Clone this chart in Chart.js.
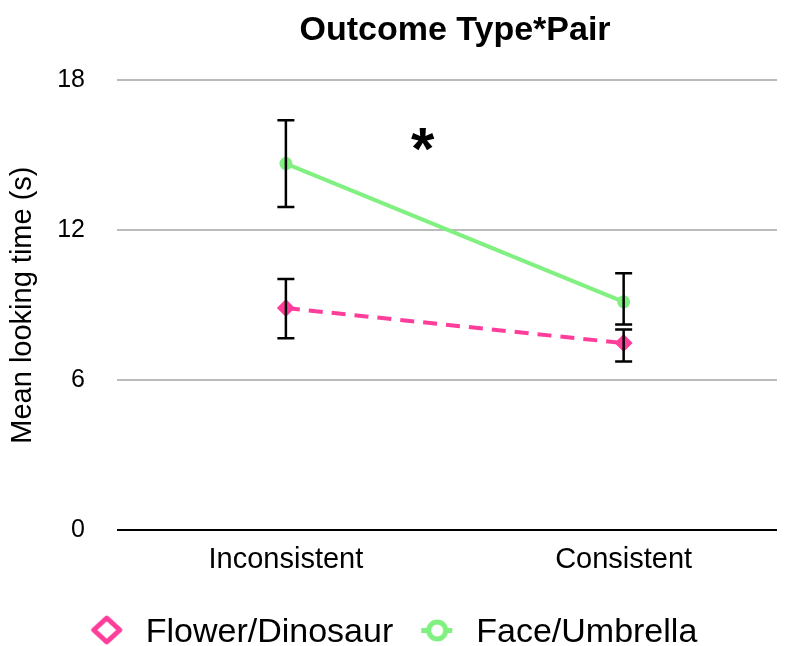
<!DOCTYPE html>
<html>
<head>
<meta charset="utf-8">
<script src="https://cdn.jsdelivr.net/npm/chart.js@4.4.0/dist/chart.umd.min.js"></script>
<style>
  html, body { margin: 0; padding: 0; background: #fff; }
  #wrap { width: 786px; height: 646px; }
</style>
</head>
<body>
<div id="wrap"><canvas id="chart"></canvas></div>
<script>
const categories = ['Inconsistent', 'Consistent'];
const yTicks = [0, 6, 12, 18];

const flowerMean  = [8.88, 7.48];
const flowerUpper = [10.04, 8.02];
const flowerLower = [7.67, 6.75];

const faceMean  = [14.66, 9.13];
const faceUpper = [16.39, 10.27];
const faceLower = [12.92, 8.22];

const PINK  = '#ff3d9a';
const GREEN = '#80f080';
const FONT = '"Liberation Sans", Arial, sans-serif';

// icônes de légende (centre un peu au-dessus du milieu)
function legendIcon(kind, color) {
  const c = document.createElement('canvas');
  c.width = 40; c.height = 36;
  const g = c.getContext('2d');
  g.strokeStyle = color;
  g.lineWidth = 5;
  if (kind === 'diamond') {
    g.lineJoin = 'round';
    g.beginPath();
    g.moveTo(20, 3); g.lineTo(33, 15); g.lineTo(20, 27); g.lineTo(7, 15);
    g.closePath();
    g.stroke();
  } else {
    g.beginPath();
    g.moveTo(4, 15.5); g.lineTo(35, 15.5);
    g.stroke();
    g.beginPath();
    g.arc(20, 15.5, 8.5, 0, Math.PI * 2);
    g.fillStyle = '#fff';
    g.fill();
    g.stroke();
  }
  return c;
}
const icons = [legendIcon('diamond', PINK), legendIcon('circle', GREEN)];

// barres d'erreur + titre + astérisque
const extras = {
  id: 'extras',
  afterDatasetsDraw(c) {
    const { ctx, scales: { x, y } } = c;
    ctx.save();
    ctx.strokeStyle = '#000';
    ctx.lineWidth = 2.5;
    const bars = [[flowerUpper, flowerLower], [faceUpper, faceLower]];
    bars.forEach(([up, lo]) => {
      up.forEach((u, i) => {
        const px = x.getPixelForValue(i);
        const t = y.getPixelForValue(u), b = y.getPixelForValue(lo[i]);
        ctx.beginPath();
        ctx.moveTo(px, t); ctx.lineTo(px, b);
        ctx.moveTo(px - 8.5, t); ctx.lineTo(px + 8.5, t);
        ctx.moveTo(px - 8.5, b); ctx.lineTo(px + 8.5, b);
        ctx.stroke();
      });
    });
    ctx.fillStyle = '#000';
    ctx.textAlign = 'center';
    ctx.textBaseline = 'middle';
    ctx.font = 'bold 34px ' + FONT;
    ctx.fillText('Outcome Type*Pair', 455, 31);
    ctx.font = 'bold 60px ' + FONT;
    ctx.fillText('*', x.getPixelForValue(0.405), y.getPixelForValue(15.6) + 12);
    ctx.restore();
  }
};

new Chart(document.getElementById('chart'), {
  type: 'line',
  data: {
    datasets: [
      {
        label: 'Flower/Dinosaur',
        data: flowerMean.map((v, i) => ({ x: i, y: v })),
        borderColor: PINK,
        backgroundColor: PINK,
        borderWidth: 4,
        borderDash: [14, 9],
        pointStyle: 'rectRot',
        pointRadius: 9,
        pointBorderWidth: 0,
      },
      {
        label: 'Face/Umbrella',
        data: faceMean.map((v, i) => ({ x: i, y: v })),
        borderColor: GREEN,
        backgroundColor: GREEN,
        borderWidth: 4,
        pointStyle: 'circle',
        pointRadius: 6.5,
        pointBorderWidth: 0,
      },
    ],
  },
  options: {
    responsive: true,
    maintainAspectRatio: false,
    animation: false,
    layout: { padding: { top: 80, right: 6, left: 2, bottom: 0 } },
    plugins: {
      tooltip: { enabled: false },
      legend: {
        position: 'bottom',
        maxHeight: 52,
        labels: {
          color: '#000',
          font: { family: FONT, size: 34 },
          usePointStyle: true,
          boxHeight: 33,
          pointStyleWidth: 44,
          padding: 22,
          generateLabels: ch => ch.data.datasets.map((d, i) => ({
            text: d.label,
            pointStyle: icons[i],
            datasetIndex: i,
          })),
        },
      },
    },
    scales: {
      x: {
        type: 'linear',
        min: -0.5,
        max: 1.454,
        afterBuildTicks: ax => { ax.ticks = categories.map((_, i) => ({ value: i })); },
        afterFit: ax => { ax.height += 13; },
        ticks: {
          color: '#000',
          font: { family: FONT, size: 29 },
          padding: 4,
          callback: v => categories[v],
        },
        grid: { display: false },
        border: { display: false },
      },
      y: {
        min: 0,
        max: 18,
        afterBuildTicks: ax => { ax.ticks = yTicks.map(v => ({ value: v })); },
        afterFit: ax => { ax.width = 115; },
        ticks: { color: '#000', font: { family: FONT, size: 25 }, padding: 32 },
        title: {
          display: true,
          text: 'Mean looking time (s)',
          color: '#000',
          font: { family: FONT, size: 29 },
          padding: { top: 4, bottom: 2 },
        },
        grid: {
          color: ctx => ctx.tick.value === 0 ? '#000' : '#bbbbbb',
          lineWidth: 2,
          drawTicks: false,
        },
        border: { display: false },
      },
    },
  },
  plugins: [extras],
});
</script>
</body>
</html>
